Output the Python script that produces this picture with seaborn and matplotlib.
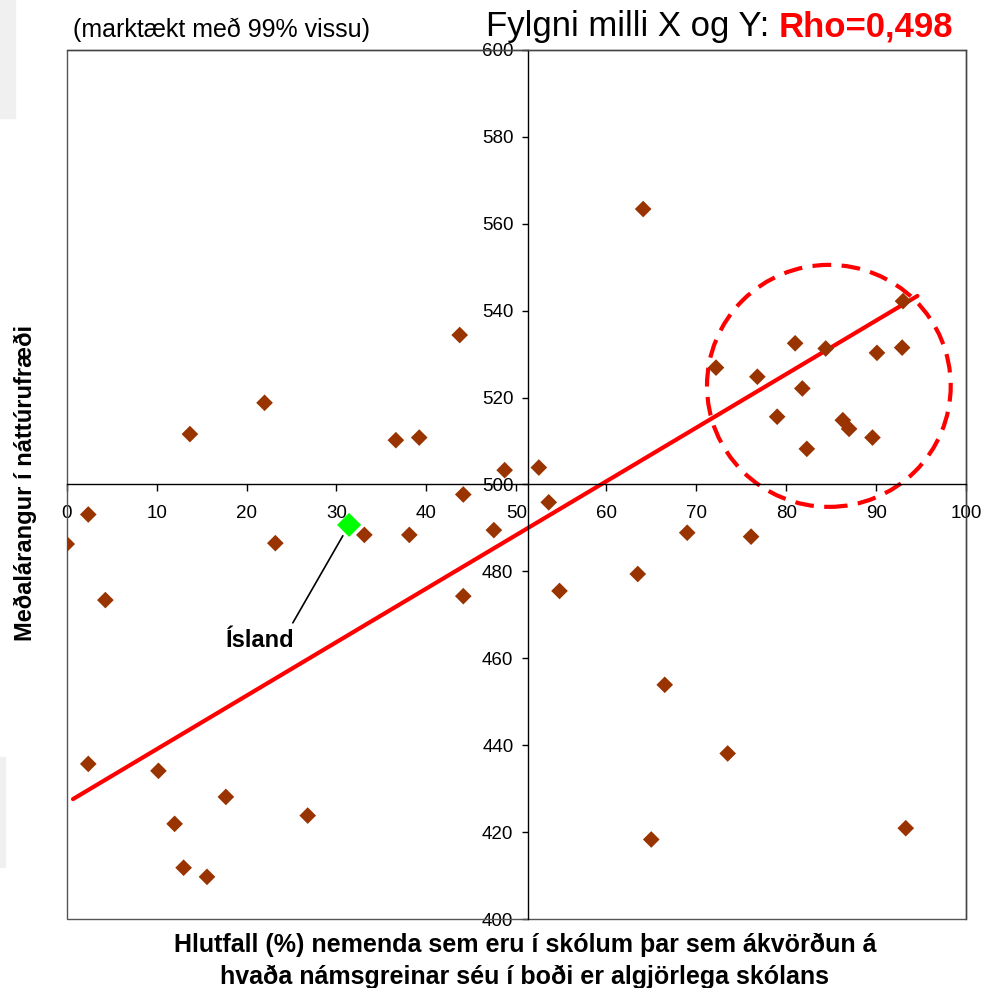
import matplotlib
matplotlib.use("Agg")
import matplotlib.pyplot as plt
from matplotlib.patches import Ellipse, Rectangle
import pandas as pd
import seaborn as sns

# Data
# x: % of students in schools with full say on which subjects are offered
# y: mean science score
pct_autonomy = [13.7, 22.0, 36.6, 39.2, 43.7, 48.7,
                52.5, 64.1, 72.2, 76.8, 79.0, 81.0, 81.8, 82.3, 84.4,
                86.3, 87.0, 89.6, 90.1, 92.9, 93.0,
                0.0, 2.4, 4.3, 23.2, 33.1, 38.1, 44.1, 44.1, 47.5,
                2.4, 10.2, 12.0, 13.0, 15.6, 17.7, 26.8,
                53.6, 54.8, 63.5, 66.5, 69.0, 76.1, 73.5, 65.0, 93.3]
science_score = [511.6, 518.8, 510.2, 510.8, 534.4, 503.3,
                 503.9, 563.4, 526.9, 524.8, 515.6, 532.5, 522.1, 508.2, 531.3,
                 514.8, 512.8, 510.8, 530.3, 531.5, 542.2,
                 486.3, 493.1, 473.4, 486.5, 488.4, 488.4, 497.7, 474.3, 489.5,
                 435.7, 434.1, 421.9, 411.8, 409.7, 428.1, 423.8,
                 495.9, 475.5, 479.4, 453.9, 488.9, 488.0, 438.1, 418.3, 420.9]

iceland_x = [31.4]
iceland_y = [490.7]

# trend line end points
trend_x = [0.7, 94.6]
trend_y = [427.6, 543.4]

x_ticks = list(range(0, 101, 10))
y_ticks = list(range(400, 601, 20))

df = pd.DataFrame({"x": pct_autonomy, "y": science_score})

sns.set_style("white")
plt.rcParams["font.family"] = ["Liberation Sans", "DejaVu Sans"]
plt.rcParams["text.color"] = "black"
plt.rcParams["axes.labelcolor"] = "black"

fig = plt.figure(figsize=(9.86, 9.88), dpi=100)
ax = fig.add_axes([66.7 / 986, 69 / 988, 899.3 / 986, 869 / 988])

# trend line + highlighted cluster
sns.lineplot(x=trend_x, y=trend_y, color="#ff0000", linewidth=3,
             sort=False, ax=ax, zorder=2)
ax.add_patch(Ellipse((84.75, 522.7), 27.1, 55.7, fill=False,
                     edgecolor="#ff0000", linewidth=3,
                     linestyle=(0, (4.5, 2.5)), zorder=2))

sns.scatterplot(data=df, x="x", y="y", marker="D", color="#993300",
                s=72, edgecolor="none", ax=ax, zorder=3)
sns.scatterplot(x=iceland_x, y=iceland_y, marker="D", color="#00ff00",
                s=150, edgecolor="none", ax=ax, zorder=4)

ax.annotate("Ísland", xy=(iceland_x[0], iceland_y[0]), xytext=(21.5, 464.2),
            ha="center", va="center", fontsize=17, fontweight="bold",
            color="black",
            arrowprops=dict(arrowstyle="-", color="black", lw=1.2,
                            relpos=(0.93, 1.0), shrinkA=2, shrinkB=9))

ax.set_xlim(0, 100)
ax.set_ylim(400, 600)
ax.set_xticks(x_ticks)
ax.set_yticks(y_ticks)
ax.set_xlabel("")
ax.set_ylabel("")

# axes cross in the middle
ax.spines["left"].set_position(("data", 51.3))
ax.spines["bottom"].set_position(("data", 500))
for side in ["left", "bottom"]:
    ax.spines[side].set_color("black")
    ax.spines[side].set_linewidth(1)
for side in ["top", "right"]:
    ax.spines[side].set_color("#444444")
    ax.spines[side].set_linewidth(1)
ax.add_patch(Rectangle((0, 0), 1, 1, transform=ax.transAxes, fill=False,
                       edgecolor="#555555", linewidth=1, clip_on=False,
                       zorder=1))

ax.tick_params(axis="x", direction="out", length=5, width=1, pad=10,
               labelsize=13.5, colors="black", bottom=True)
ax.tick_params(axis="y", direction="out", length=4.5, width=1, pad=6,
               labelsize=13.5, colors="black", left=True)

# texts around the plot
fig.text(73 / 986, 1 - 37 / 988, "(marktækt með 99% vissu)",
         fontsize=18, ha="left", va="baseline", color="black")
red = fig.text(953 / 986, 1 - 36 / 988, "Rho=0,498", fontsize=25,
               fontweight="bold", color="#ff0000", ha="right", va="baseline")
fig.canvas.draw()
bb = red.get_window_extent()
fig.text(bb.x0 / fig.bbox.width, 1 - 36 / 988, "Fylgni milli X og Y: ",
         fontsize=25, ha="right", va="baseline", color="black")

fig.text(25 / 986, 1 - 483 / 988, "Meðalárangur í náttúrufræði",
         fontsize=17, fontweight="bold", rotation=90, ha="center",
         va="center", color="black")
fig.text(525 / 986, 1 - 961 / 988,
         "Hlutfall (%) nemenda sem eru í skólum þar sem ákvörðun á\n"
         "hvaða námsgreinar séu í boði er algjörlega skólans",
         fontsize=18, fontweight="bold", ha="center", va="center",
         multialignment="center", linespacing=1.4, color="black")

# faint grey blocks at the left edge of the original screenshot
fig.patches.append(Rectangle((0, 1 - 118 / 988), 15 / 986, 118 / 988,
                             transform=fig.transFigure, color="#f0f0f0",
                             zorder=0))
fig.patches.append(Rectangle((0, 1 - 867 / 988), 5 / 986, 110 / 988,
                             transform=fig.transFigure, color="#f0f0f0",
                             zorder=0))

fig.savefig("out.png", dpi=100)
